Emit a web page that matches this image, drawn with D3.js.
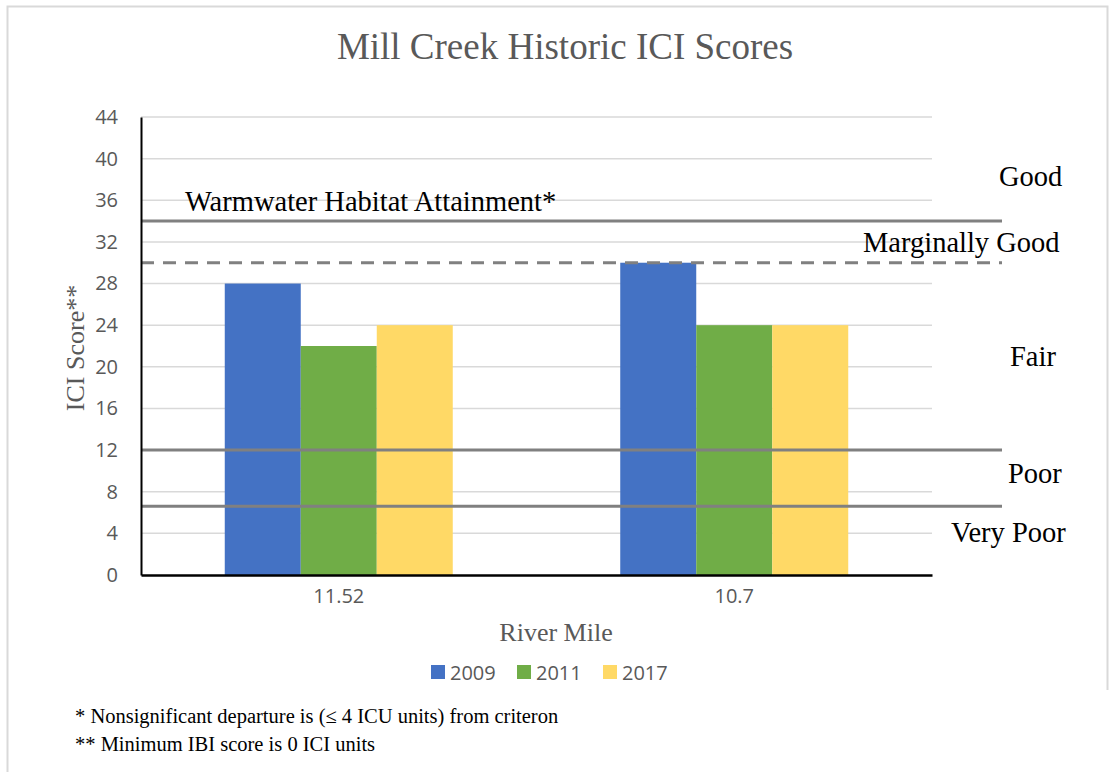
<!DOCTYPE html>
<html>
<head>
<meta charset="utf-8">
<script src="https://cdn.jsdelivr.net/npm/d3@7"></script>
<style>
  body { margin: 0; background: #fff; }
  svg { display: block; }
</style>
</head>
<body>
<svg></svg>
<script>
// values
var riverMiles = ["11.52", "10.7"]
var years = ["2009", "2011", "2017"]
var scores2009 = [28, 30]
var scores2011 = [22, 24]
var scores2017 = [24, 24]
var yTicks = [0, 4, 8, 12, 16, 20, 24, 28, 32, 36, 40, 44]
var colors = ["#4472C4", "#70AD47", "#FFD966"]

// criterion lines: value and whether dashed
var criteria = [
  {value: 34, dashed: false},
  {value: 30, dashed: true},
  {value: 12, dashed: false},
  {value: 6.6, dashed: false}
]
// narrative labels, y given in score units (baseline)
var bandLabels = [
  {text: "Good", y: 37.4, x: 999},
  {text: "Marginally Good", y: 31.0, x: 863},
  {text: "Fair", y: 20.1, x: 1010},
  {text: "Poor", y: 8.8, x: 1008},
  {text: "Very Poor", y: 3.2, x: 951},
  {text: "Warmwater Habitat Attainment*", y: 35.0, x: 185}
]
var footnotes = [
  "* Nonsignificant departure is (\u2264 4 ICU units) from criteron",
  "** Minimum IBI score is 0 ICI units"
]

var screen = {width: 1113, height: 772}
var plot = {left: 141, right: 932, top: 117, bottom: 575}
var sans = "'Open Sans', 'Noto Sans', sans-serif"
var serif = "'Liberation Serif', 'Times New Roman', serif"

var svg = d3.select("svg")
  .attr("width", screen.width)
  .attr("height", screen.height)

// chart frame (only top/left/right show in the picture)
svg.append("path")
  .attr("d", "M7.5,772 V6.5 H1107.5 V690")
  .attr("fill", "none")
  .attr("stroke", "#d9d9d9")
  .attr("stroke-width", 2)

var table = riverMiles.map(function(m, i) {
  return {mile: m, values: [scores2009[i], scores2011[i], scores2017[i]]}
})

var xScale = d3.scaleBand()
  .domain(riverMiles)
  .range([plot.left, plot.right])
  .paddingInner(0.4235)
  .paddingOuter(0.2118)

var xInner = d3.scaleBand()
  .domain(years)
  .range([0, xScale.bandwidth()])

var yScale = d3.scaleLinear()
  .domain([0, 44])
  .range([plot.bottom, plot.top])

// gridlines
svg.append("g")
  .selectAll("line")
  .data(yTicks.slice(1))
  .enter()
  .append("line")
  .attr("x1", plot.left)
  .attr("x2", plot.right)
  .attr("y1", function(d) { return yScale(d) })
  .attr("y2", function(d) { return yScale(d) })
  .attr("stroke", "#d9d9d9")
  .attr("stroke-width", 1.5)

// bars
svg.append("g")
  .selectAll("g")
  .data(table)
  .enter()
  .append("g")
  .attr("transform", function(d) { return "translate(" + xScale(d.mile) + ",0)" })
  .selectAll("rect")
  .data(function(d) { return d.values })
  .enter()
  .append("rect")
  .attr("x", function(v, i) { return xInner(years[i]) })
  .attr("width", xInner.bandwidth())
  .attr("y", function(v) { return yScale(v) })
  .attr("height", function(v) { return yScale(0) - yScale(v) })
  .attr("fill", function(v, i) { return colors[i] })

// criterion lines
svg.append("g")
  .selectAll("line")
  .data(criteria)
  .enter()
  .append("line")
  .attr("x1", plot.left)
  .attr("x2", 1002)
  .attr("y1", function(d) { return yScale(d.value) })
  .attr("y2", function(d) { return yScale(d.value) })
  .attr("stroke", "#808080")
  .attr("stroke-width", 3)
  .attr("stroke-dasharray", function(d) { return d.dashed ? "13,9" : null })

// axes
var yAxis = d3.axisLeft(yScale).tickValues(yTicks).tickSize(0).tickPadding(23)
var gy = svg.append("g")
  .attr("transform", "translate(" + plot.left + ",0)")
  .call(yAxis)
gy.select(".domain").attr("stroke", "#000").attr("stroke-width", 2)
gy.selectAll("text").attr("fill", "#595959").style("font-family", sans).style("font-size", "20px")

var xAxis = d3.axisBottom(xScale).tickSize(0).tickPadding(14)
var gx = svg.append("g")
  .attr("transform", "translate(0," + plot.bottom + ")")
  .call(xAxis)
gx.select(".domain").attr("stroke", "#000").attr("stroke-width", 2.5)
gx.selectAll("text").attr("fill", "#595959").style("font-family", sans).style("font-size", "20px")

// labels on the chart
svg.append("g")
  .selectAll("text")
  .data(bandLabels)
  .enter()
  .append("text")
  .attr("x", function(d) { return d.x })
  .attr("y", function(d) { return yScale(d.y) })
  .style("font-family", serif)
  .style("font-size", "28.5px")
  .attr("fill", "#000")
  .text(function(d) { return d.text })

// title
svg.append("text")
  .attr("x", 565)
  .attr("y", 59)
  .attr("text-anchor", "middle")
  .style("font-family", serif)
  .style("font-size", "37px")
  .attr("fill", "#595959")
  .text("Mill Creek Historic ICI Scores")

// axis titles
svg.append("text")
  .attr("transform", "translate(84,348) rotate(-90)")
  .attr("text-anchor", "middle")
  .style("font-family", serif)
  .style("font-size", "26px")
  .attr("fill", "#595959")
  .text("ICI Score**")

svg.append("text")
  .attr("x", 556)
  .attr("y", 641)
  .attr("text-anchor", "middle")
  .style("font-family", serif)
  .style("font-size", "26px")
  .attr("fill", "#595959")
  .text("River Mile")

// legend
var legendX = [431, 517, 603]
var legend = svg.append("g")
  .selectAll("g")
  .data(years)
  .enter()
  .append("g")
  .attr("transform", function(d, i) { return "translate(" + legendX[i] + ",665)" })
legend.append("rect")
  .attr("width", 14)
  .attr("height", 14)
  .attr("fill", function(d, i) { return colors[i] })
legend.append("text")
  .attr("x", 19)
  .attr("y", 15)
  .style("font-family", sans)
  .style("font-size", "20px")
  .attr("fill", "#595959")
  .text(function(d) { return d })

// footnotes
svg.append("g")
  .selectAll("text")
  .data(footnotes)
  .enter()
  .append("text")
  .attr("x", 75)
  .attr("y", function(d, i) { return 723 + i * 28 })
  .style("font-family", serif)
  .style("font-size", "20.5px")
  .attr("fill", "#000")
  .text(function(d) { return d })
</script>
</body>
</html>
